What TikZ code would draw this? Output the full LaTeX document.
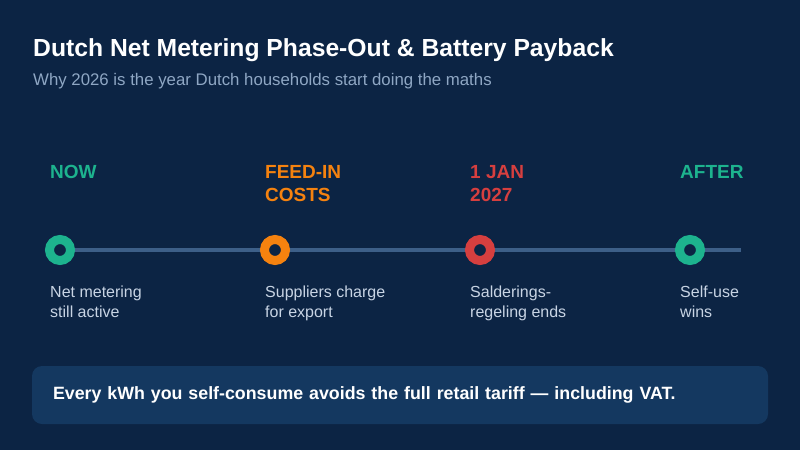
\documentclass[tikz,border=0pt]{standalone}
\usepackage{fontspec}
\setmainfont{Liberation Sans}
\usepackage{tikz}

\definecolor{bgblue}{HTML}{0C2444}
\definecolor{boxblue}{HTML}{143860}
\definecolor{trackblue}{HTML}{3D5F88}
\definecolor{subgrey}{HTML}{8FA7C4}
\definecolor{descgrey}{HTML}{C8D4E4}
\definecolor{nowteal}{HTML}{1DB38E}
\definecolor{feedorange}{HTML}{F5820F}
\definecolor{endred}{HTML}{D63F3F}

\begin{document}
\begin{tikzpicture}[x=1pt,y=-1pt,
  stop/.style={draw=#1, fill=bgblue, circle, line width=9pt, minimum size=21pt, inner sep=0pt},
  phase/.style={anchor=base west, inner sep=0pt, align=left, text=#1, font=\fontsize{19}{23}\selectfont\bfseries},
  desc/.style={anchor=base west, inner sep=0pt, align=left, text=descgrey, font=\fontsize{16}{20}\selectfont}]
\fill[bgblue] (0,0) rectangle (800,450);
\useasboundingbox (0,0) rectangle (800,450);

\node[anchor=base west, inner sep=0pt, text=white, font=\fontsize{24.7}{29}\selectfont\bfseries] (title) at (33,56) {Dutch Net Metering Phase-Out \& Battery Payback};
\node[anchor=base west, inner sep=0pt, text=subgrey, font=\fontsize{16.8}{20}\selectfont] (subtitle) at (33,85) {Why 2026 is the year Dutch households start doing the maths};

% timeline track
\coordinate (tstart) at (60,250);
\coordinate (tend) at (741,250);
\draw[trackblue, line width=4pt] (tstart) -- (tend);

\node[stop=nowteal] (now) at (60,250){};
\node[stop=feedorange] (feed) at (275,250){};
\node[stop=endred] (jan) at (480,250){};
\node[stop=nowteal] (after) at (690,250){};

% base anchor sits on the last line
\node[phase=nowteal] (nowlbl) at (50,178){NOW};
\node[phase=feedorange] (feedlbl) at (265,201){FEED-IN\\COSTS};
\node[phase=endred] (janlbl) at (470,201){1 JAN\\2027};
\node[phase=nowteal] (afterlbl) at (680,178){AFTER};

\node[desc] (nowtxt) at (50,317){Net metering\\still active};
\node[desc] (feedtxt) at (265,317){Suppliers charge\\for export};
\node[desc] (jantxt) at (470,317){Salderings-\\regeling ends};
\node[desc] (aftertxt) at (680,317){Self-use\\wins};

\node[fill=boxblue, rounded corners=10pt, minimum width=736pt, minimum height=58pt, text width=694pt, inner xsep=21pt, align=left, text=white, font=\fontsize{17.8}{20}\selectfont\bfseries] (note) at (400,395){Every kWh you self-consume avoids the full retail tariff — including VAT.};
\end{tikzpicture}
\end{document}
